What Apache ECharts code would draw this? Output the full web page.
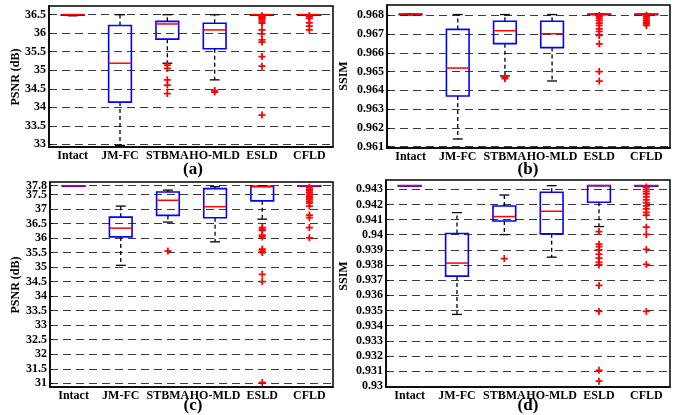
<!DOCTYPE html>
<html>
<head>
<meta charset="utf-8">
<script src="https://cdn.jsdelivr.net/npm/echarts@6/dist/echarts.min.js"></script>
<style>
html,body{margin:0;padding:0;background:#fff;}
#c{width:678px;height:415px;}
</style>
</head>
<body>
<div id="c"></div>
<script>
const categories = ['Intact', 'JM-FC', 'STBMA', 'HO-MLD', 'ESLD', 'CFLD'];

// box stats: [min whisker, Q1, median, Q3, max whisker]
const psnrA_boxes = [
  [36.47, 36.49, 36.5, 36.5, 36.5],
  [32.97, 34.14, 35.19, 36.21, 36.5],
  [35.19, 35.84, 36.25, 36.32, 36.5],
  [34.74, 35.58, 36.09, 36.27, 36.5],
  [36.49, 36.49, 36.5, 36.5, 36.5],
  [36.49, 36.5, 36.5, 36.5, 36.5]
];
const psnrA_outliers = [
  [],
  [],
  [35.14, 35.05, 34.74, 34.6, 34.37],
  [34.45, 34.41],
  [36.47, 36.45, 36.42, 36.4, 36.36, 36.31, 36.27, 36.09, 35.98, 35.82, 35.76, 35.37, 35.11, 33.79],
  [36.47, 36.45, 36.4, 36.28, 36.19, 36.09]
];
const psnrA_ticks = [33, 33.5, 34, 34.5, 35, 35.5, 36, 36.5];

const ssimB_boxes = [
  [0.96803, 0.96805, 0.96806, 0.96806, 0.96806],
  [0.96141, 0.96370, 0.96519, 0.96725, 0.96804],
  [0.96477, 0.96649, 0.96718, 0.96768, 0.96804],
  [0.96450, 0.96628, 0.96702, 0.96768, 0.96804],
  [0.96805, 0.96805, 0.96806, 0.96806, 0.96806],
  [0.96805, 0.96805, 0.96806, 0.96806, 0.96806]
];
const ssimB_outliers = [
  [],
  [],
  [0.96470, 0.96463],
  [],
  [0.96799, 0.96792, 0.96782, 0.96771, 0.96759, 0.96746, 0.96728, 0.96714, 0.96693, 0.96648, 0.96500, 0.96450],
  [0.96800, 0.96791, 0.96782, 0.96773, 0.96764, 0.96755, 0.96746]
];
const ssimB_ticks = [0.961, 0.962, 0.963, 0.964, 0.965, 0.966, 0.967, 0.968];

const psnrC_boxes = [
  [37.78, 37.79, 37.8, 37.8, 37.8],
  [35.06, 36.04, 36.34, 36.72, 37.10],
  [36.55, 36.78, 37.30, 37.585, 37.65],
  [35.87, 36.70, 37.08, 37.70, 37.77],
  [36.65, 37.28, 37.77, 37.78, 37.8],
  [37.79, 37.79, 37.8, 37.8, 37.8]
];
const psnrC_outliers = [
  [],
  [],
  [35.55],
  [],
  [36.36, 36.3, 36.26, 36.1, 36.04, 35.62, 35.55, 35.5, 34.75, 34.5, 31.03],
  [37.75, 37.68, 37.62, 37.56, 37.5, 37.44, 37.38, 37.32, 37.26, 37.2, 37.10, 36.79, 36.70, 36.36, 36.01]
];
const psnrC_ticks = [31, 31.5, 32, 32.5, 33, 33.5, 34, 34.5, 35, 35.5, 36, 36.5, 37, 37.5];
const psnrC_extraTicks = [37.8];

const ssimD_boxes = [
  [0.94322, 0.94323, 0.94324, 0.94324, 0.94324],
  [0.93474, 0.93727, 0.93813, 0.94008, 0.94146],
  [0.94001, 0.94091, 0.94120, 0.94190, 0.94262],
  [0.93852, 0.94006, 0.94155, 0.94280, 0.94324],
  [0.94054, 0.94214, 0.94324, 0.94324, 0.94324],
  [0.94322, 0.94323, 0.94324, 0.94324, 0.94324]
];
const ssimD_outliers = [
  [],
  [],
  [0.93843],
  [],
  [0.94021, 0.93938, 0.93922, 0.93900, 0.93872, 0.93845, 0.93817, 0.93801, 0.93665, 0.93494, 0.93105, 0.93033],
  [0.94315, 0.94300, 0.94285, 0.94270, 0.94250, 0.94230, 0.94210, 0.94190, 0.94170, 0.94147, 0.94129, 0.94050, 0.94002, 0.93903, 0.93804, 0.93494]
];
const ssimD_ticks = [0.93, 0.931, 0.932, 0.933, 0.934, 0.935, 0.936, 0.937, 0.938, 0.939, 0.94, 0.941, 0.942, 0.943];

const FONT = "'Liberation Serif', 'DejaVu Serif', serif";

const panels = [
  {boxes: psnrA_boxes, outliers: psnrA_outliers, ticks: psnrA_ticks, min: 32.927, max: 36.735,
   grid: {left: 49, top: 6, width: 284, height: 141}},
  {boxes: ssimB_boxes, outliers: ssimB_outliers, ticks: ssimB_ticks, min: 0.960931, max: 0.968549,
   grid: {left: 387, top: 5, width: 283, height: 143}},
  {boxes: psnrC_boxes, outliers: psnrC_outliers, ticks: psnrC_ticks, extra: psnrC_extraTicks, min: 30.873, max: 37.929,
   grid: {left: 50, top: 182, width: 283, height: 205}},
  {boxes: ssimD_boxes, outliers: ssimD_outliers, ticks: ssimD_ticks, min: 0.92995, max: 0.943613,
   grid: {left: 386, top: 180, width: 284, height: 207}}
];

function renderBox(params, api) {
  const x = api.value(0);
  const band = api.size([1, 0])[0];
  const bw = band * 0.48, cw = band * 0.21;
  const pMin = api.coord([x, api.value(1)]);
  const pQ1 = api.coord([x, api.value(2)]);
  const pMed = api.coord([x, api.value(3)]);
  const pQ3 = api.coord([x, api.value(4)]);
  const pMax = api.coord([x, api.value(5)]);
  const cx = pMed[0];
  const dash = {stroke: '#000', lineWidth: 1.3, lineDash: [4, 3]};
  const solid = {stroke: '#000', lineWidth: 1.3};
  return {
    type: 'group',
    children: [
      {type: 'line', shape: {x1: cx, y1: pQ3[1], x2: cx, y2: pMax[1]}, style: dash},
      {type: 'line', shape: {x1: cx, y1: pQ1[1], x2: cx, y2: pMin[1]}, style: dash},
      {type: 'line', shape: {x1: cx - cw / 2, y1: pMax[1], x2: cx + cw / 2, y2: pMax[1]}, style: solid},
      {type: 'line', shape: {x1: cx - cw / 2, y1: pMin[1], x2: cx + cw / 2, y2: pMin[1]}, style: solid},
      {type: 'rect', shape: {x: cx - bw / 2, y: pQ3[1], width: bw, height: Math.max(pQ1[1] - pQ3[1], 0.5)},
       style: {fill: 'rgba(0,0,0,0)', stroke: '#0000ff', lineWidth: 1.6}},
      {type: 'line', shape: {x1: cx - bw / 2, y1: pMed[1], x2: cx + bw / 2, y2: pMed[1]},
       style: {stroke: '#ff0000', lineWidth: 1.5}}
    ]
  };
}

const plusPath = 'path://M3,0h2v3h3v2h-3v3h-2v-3h-3v-2h3z';

const option = {
  animation: false,
  backgroundColor: '#fff',
  grid: [], xAxis: [], yAxis: [], series: [],
  graphic: []
};

const labelStyle = {color: '#000', fontFamily: FONT, fontWeight: 'bold', fontSize: 12, margin: 3,
  hideOverlap: false, showMinLabel: true, showMaxLabel: true,
  formatter: v => String(parseFloat(v.toFixed(4)))};
const gridLine = {show: true, lineStyle: {color: '#3a3a3a', width: 1, type: [8, 5]}};

panels.forEach((p, i) => {
  option.grid.push(Object.assign({show: true, borderColor: '#000', borderWidth: 1.5, backgroundColor: '#fff'}, p.grid));
  option.xAxis.push({
    type: 'category', gridIndex: i, data: categories, boundaryGap: true,
    axisLine: {lineStyle: {color: '#000', width: 1.5}},
    axisTick: {show: false},
    axisLabel: {color: '#000', fontFamily: FONT, fontWeight: 'bold', fontSize: 12, margin: 3, interval: 0},
    splitLine: {show: false}
  });
  const yIdx = option.yAxis.length;
  option.yAxis.push({
    type: 'value', gridIndex: i, min: p.min, max: p.max, position: 'left',
    axisLine: {show: true, lineStyle: {color: '#000', width: 1.5}},
    axisTick: {show: true, inside: true, length: 3, customValues: p.ticks, lineStyle: {color: '#000'}},
    axisLabel: Object.assign({customValues: p.ticks}, labelStyle),
    splitLine: gridLine
  });
  if (p.extra) {
    option.yAxis.push({
      type: 'value', gridIndex: i, min: p.min, max: p.max, position: 'left', offset: 0,
      axisLine: {show: false},
      axisTick: {show: true, inside: true, length: 3, customValues: p.extra, lineStyle: {color: '#000'}},
      axisLabel: Object.assign({customValues: p.extra}, labelStyle),
      splitLine: gridLine
    });
  }
  option.series.push({
    type: 'custom', xAxisIndex: i, yAxisIndex: yIdx,
    renderItem: renderBox,
    encode: {x: 0, y: [1, 2, 3, 4, 5]},
    data: p.boxes.map((b, k) => [k].concat(b)),
    z: 3
  });
  const pts = [];
  p.outliers.forEach((arr, k) => arr.forEach(v => pts.push([k, v])));
  option.series.push({
    type: 'scatter', xAxisIndex: i, yAxisIndex: yIdx,
    symbol: plusPath, symbolSize: 7,
    itemStyle: {color: '#ff0000', opacity: 1},
    data: pts, z: 4
  });
});

const textStyleBase = {fill: '#000', font: 'bold 12px ' + FONT, textAlign: 'center', textVerticalAlign: 'middle'};
option.graphic = [
  {type: 'text', x: 16, y: 77, rotation: Math.PI / 2, style: Object.assign({text: 'PSNR (dB)'}, textStyleBase)},
  {type: 'text', x: 344, y: 76, rotation: Math.PI / 2, style: Object.assign({text: 'SSIM'}, textStyleBase)},
  {type: 'text', x: 16, y: 285, rotation: Math.PI / 2, style: Object.assign({text: 'PSNR (dB)'}, textStyleBase)},
  {type: 'text', x: 344, y: 276, rotation: Math.PI / 2, style: Object.assign({text: 'SSIM'}, textStyleBase)},
  {type: 'text', x: 193, y: 170, style: Object.assign({}, textStyleBase, {text: '(a)', font: 'bold 17px ' + FONT})},
  {type: 'text', x: 528, y: 170, style: Object.assign({}, textStyleBase, {text: '(b)', font: 'bold 17px ' + FONT})},
  {type: 'text', x: 193, y: 406, style: Object.assign({}, textStyleBase, {text: '(c)', font: 'bold 17px ' + FONT})},
  {type: 'text', x: 528, y: 406, style: Object.assign({}, textStyleBase, {text: '(d)', font: 'bold 17px ' + FONT})}
];

const chart = echarts.init(document.getElementById('c'), null, {renderer: 'canvas'});
chart.setOption(option);
</script>
</body>
</html>
